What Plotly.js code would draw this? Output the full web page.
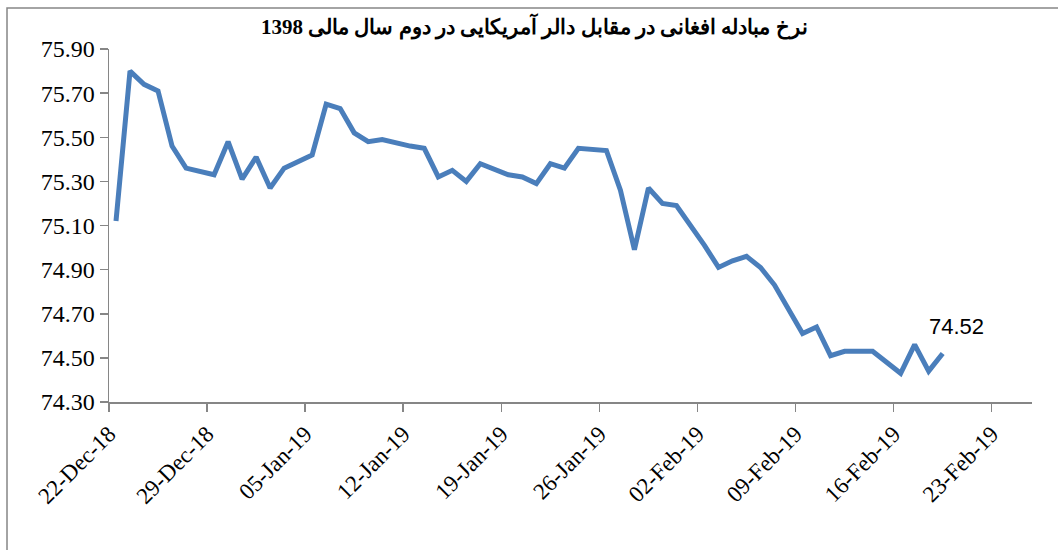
<!DOCTYPE html>
<html>
<head>
<meta charset="utf-8">
<script src="https://cdn.plot.ly/plotly-3.0.1.min.js"></script>
<style>
  html, body { margin: 0; padding: 0; background: #fff; }
  #chart { width: 1058px; height: 550px; }
</style>
</head>
<body>
<div id="chart"></div>
<script>
// Trading dates (Friday holidays skipped)
const dates = [
  "2018-12-22","2018-12-23","2018-12-24","2018-12-25","2018-12-26","2018-12-27",
  "2018-12-29","2018-12-30","2018-12-31","2019-01-01","2019-01-02","2019-01-03",
  "2019-01-05","2019-01-06","2019-01-07","2019-01-08","2019-01-09","2019-01-10",
  "2019-01-12","2019-01-13","2019-01-14","2019-01-15","2019-01-16","2019-01-17",
  "2019-01-19","2019-01-20","2019-01-21","2019-01-22","2019-01-23","2019-01-24",
  "2019-01-26","2019-01-27","2019-01-28","2019-01-29","2019-01-30","2019-01-31",
  "2019-02-02","2019-02-03","2019-02-04","2019-02-05","2019-02-06","2019-02-07",
  "2019-02-09","2019-02-10","2019-02-11","2019-02-12","2019-02-13","2019-02-14",
  "2019-02-16","2019-02-17","2019-02-18","2019-02-19"
];
// AFN per USD
const rates = [
  75.12, 75.80, 75.74, 75.71, 75.46, 75.36,
  75.33, 75.48, 75.31, 75.41, 75.27, 75.36,
  75.42, 75.65, 75.63, 75.52, 75.48, 75.49,
  75.46, 75.45, 75.32, 75.35, 75.30, 75.38,
  75.33, 75.32, 75.29, 75.38, 75.36, 75.45,
  75.44, 75.26, 74.99, 75.27, 75.20, 75.19,
  75.01, 74.91, 74.94, 74.96, 74.91, 74.83,
  74.61, 74.64, 74.51, 74.53, 74.53, 74.53,
  74.43, 74.56, 74.44, 74.52
];
const lastLabel = "74.52";
const titleText = "نرخ مبادله افغانی در مقابل دالر آمریکایی در دوم سال مالی 1398";
const yTickFormat = ".2f";
const xTickFormat = "%d-%b-%y";

// place each daily value in the middle of its day (date-axis style)
const xMid = dates.map(d => d + " 12:00");

const trace = {
  type: "scatter",
  mode: "lines",
  x: xMid,
  y: rates,
  line: { color: "#4a7ebb", width: 5 },
  hoverinfo: "x+y"
};

const axisGray = "#868686";
const serif = "'Liberation Serif', 'Times New Roman', serif";

const layout = {
  width: 1058,
  height: 550,
  paper_bgcolor: "#ffffff",
  plot_bgcolor: "#ffffff",
  showlegend: false,
  margin: { l: 109, r: 26, t: 49, b: 148 },
  title: {
    text: "<b>" + titleText + "</b>",
    font: { family: serif, size: 21, color: "#000" },
    x: 0.505, xref: "container", xanchor: "center",
    y: 0.951, yref: "container", yanchor: "middle"
  },
  xaxis: {
    type: "date",
    range: ["2018-12-22", "2019-02-25 21:00"],
    tickmode: "linear",
    tick0: "2018-12-22",
    dtick: 7 * 86400000,
    tickformat: xTickFormat,
    tickangle: -45,
    ticks: "outside",
    ticklen: 8,
    tickwidth: 1.5,
    tickcolor: axisGray,
    showline: true,
    linecolor: axisGray,
    linewidth: 1.5,
    showgrid: false,
    zeroline: false,
    tickfont: { family: serif, size: 23, color: "#000" }
  },
  yaxis: {
    range: [74.3, 75.9],
    tickmode: "linear",
    tick0: 74.3,
    dtick: 0.2,
    tickformat: yTickFormat,
    ticks: "outside",
    ticklen: 8,
    tickwidth: 1.5,
    tickcolor: axisGray,
    showline: true,
    linecolor: axisGray,
    linewidth: 1.5,
    showgrid: false,
    zeroline: false,
    tickfont: { family: serif, size: 24, color: "#000" }
  },
  annotations: [{
    x: xMid[xMid.length - 1],
    y: rates[rates.length - 1],
    xref: "x", yref: "y",
    text: lastLabel,
    showarrow: false,
    xshift: 14,
    yshift: 27,
    font: { family: "'Liberation Sans', Arial, sans-serif", size: 22, color: "#000" }
  }],
  shapes: [{
    type: "rect",
    xref: "paper", yref: "paper",
    x0: -0.1105, x1: 1.2,
    y0: -0.6, y1: 1.116,
    line: { color: axisGray, width: 1.5 },
    fillcolor: "rgba(0,0,0,0)",
    layer: "below"
  }]
};

Plotly.newPlot("chart", [trace], layout, { displayModeBar: false, staticPlot: true });
</script>
</body>
</html>
